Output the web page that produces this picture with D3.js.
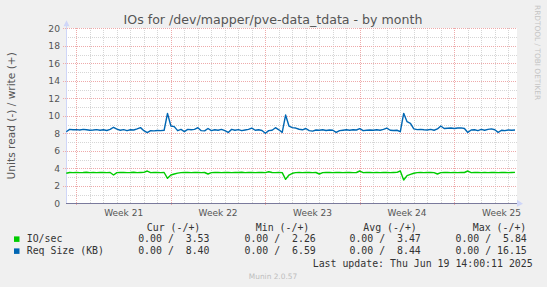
<!DOCTYPE html>
<html>
<head>
<meta charset="utf-8">
<script src="https://cdn.jsdelivr.net/npm/d3@7"></script>
<style>
  body { margin: 0; background: #f0f0f0; }
  svg { display: block; }
  text { white-space: pre; }
</style>
</head>
<body>
<svg id="chart"></svg>
<script>
// munin "by month" graph (6 hour samples)
const firstSample = new Date(2025, 4, 17, 6, 0);
const sampleHours = 6;

const ioWrite = [
  3.43, 3.52, 3.50, 3.54, 3.50, 3.52, 3.55, 3.50, 3.53, 3.50, 3.54, 3.52, 3.50, 3.52,
  3.23,
  3.50, 3.52, 3.54, 3.50, 3.52, 3.55, 3.50, 3.52, 3.54, 3.69, 3.50, 3.52, 3.53, 3.50, 3.52,
  2.86, 3.23, 3.35, 3.45,
  3.50, 3.52, 3.54, 3.50, 3.53, 3.52, 3.50, 3.52,
  3.35,
  3.50, 3.53, 3.52, 3.50, 3.54, 3.52, 3.50, 3.53, 3.52, 3.55, 3.50, 3.52, 3.54, 3.50, 3.52, 3.53, 3.50, 3.60, 3.52, 3.50, 3.53, 3.50,
  2.74, 3.23, 3.43,
  3.50, 3.52, 3.50, 3.53, 3.52, 3.50, 3.52,
  3.35,
  3.50, 3.52, 3.53, 3.50, 3.52, 3.54, 3.50, 3.52, 3.53, 3.50, 3.52,
  3.69,
  3.50, 3.52, 3.53, 3.50, 3.52, 3.50, 3.53, 3.52, 3.50, 3.52, 3.53,
  3.69, 2.66, 3.16, 3.30, 3.43,
  3.50, 3.52, 3.50, 3.53, 3.52, 3.50,
  3.35,
  3.50, 3.52, 3.53, 3.50, 3.52, 3.50, 3.53, 3.52,
  3.69,
  3.50, 3.52, 3.53, 3.50, 3.52, 3.50, 3.53, 3.52, 3.50, 3.52, 3.53, 3.50, 3.52, 3.53
];

const reqWrite = [
  8.18, 8.45, 8.40, 8.42, 8.38, 8.45, 8.40, 8.35, 8.38, 8.42, 8.35, 8.40, 8.32, 8.45,
  8.69, 8.48, 8.35, 8.42, 8.30, 8.40, 8.38, 8.50, 8.65, 8.30, 8.08, 8.30, 8.28, 8.32,
  8.30, 8.35, 10.28, 8.83, 8.76, 8.30, 8.45, 8.20, 8.45, 8.40, 8.45, 8.64, 8.30, 8.28,
  8.55, 8.30, 8.40, 8.35, 8.45, 8.30, 8.10, 8.45, 8.35, 8.42, 8.30, 8.38, 8.45, 8.60,
  8.35, 8.40, 8.32, 8.00, 8.30, 8.35, 8.64, 8.40, 8.10, 10.09, 8.83, 8.65, 8.60, 8.46,
  8.40, 8.55, 8.30, 8.25, 8.38, 8.35, 8.40, 8.32, 8.38, 8.35, 8.10, 8.30, 8.35, 8.40,
  8.35, 8.40, 8.38, 8.53, 8.30, 8.35, 8.38, 8.35, 8.40, 8.35, 8.45, 8.60, 8.35, 8.32,
  8.35, 8.18, 10.28, 9.33, 9.14, 8.50, 8.42, 8.45, 8.40, 8.38, 8.45, 8.35, 8.50, 8.83,
  8.55, 8.58, 8.60, 8.55, 8.60, 8.62, 8.55, 8.10, 8.38, 8.40, 8.30, 8.45, 8.35, 8.45,
  8.50, 8.40, 8.10, 8.35, 8.30, 8.38, 8.35, 8.37
];

const seriesNames = ["IO/sec", "Req Size (KB)"];
const statHeaders = ["Cur (-/+)", "Min (-/+)", "Avg (-/+)", "Max (-/+)"];
const ioStats = ["0.00 /  3.53", "0.00 /  2.26", "0.00 /  3.47", "0.00 /  5.84"];
const reqStats = ["0.00 /  8.40", "0.00 /  6.59", "0.00 /  8.44", "0.00 / 16.15"];
const yTicks = [0, 2, 4, 6, 8, 10, 12, 14, 16, 18, 20];

const titleText = "IOs for /dev/mapper/pve-data_tdata - by month";
const yLabel = "Units read (-) / write (+)";
const lastUpdate = "Last update: Thu Jun 19 14:00:11 2025";

function main() {
    const toPoints = values => values.map((v, i) => ({
        t: d3.timeHour.offset(firstSample, i * sampleHours),
        v: v
    }));
    drawChart([toPoints(ioWrite), toPoints(reqWrite)]);
}

function drawChart(series) {
    const canvasWidth = 547;
    const canvasHeight = 287;
    const colors = ["#00cc00", "#0066b3"];

    const svg = d3.select("#chart")
        .attr("width", canvasWidth)
        .attr("height", canvasHeight)
        .style("font-family", "'DejaVu Sans', sans-serif");

    svg.append("rect")
        .attr("width", canvasWidth).attr("height", canvasHeight)
        .attr("fill", "#f0f0f0");

    // plot box
    const left = 66, right = 517, top = 28.3, bottom = 203.3;

    const x = d3.scaleTime()
        .domain([new Date(2025, 4, 17, 5, 30), new Date(2025, 5, 19, 15, 30)])
        .range([left, right]);
    const y = d3.scaleLinear()
        .domain([0, 20])
        .range([bottom, top]);
    const px = v => Math.round(v) + 0.5;

    svg.append("rect")
        .attr("x", left).attr("y", 28)
        .attr("width", right - left).attr("height", 176)
        .attr("fill", "#ffffff");

    // minor grid (each day / each unit)
    const grid = svg.append("g").attr("shape-rendering", "crispEdges");
    const days = d3.timeDay.range(x.domain()[0], x.domain()[1]);
    const sundays = d3.timeSunday.range(x.domain()[0], x.domain()[1]);
    grid.selectAll(".vminor")
        .data(days.filter(d => d.getDay() !== 0))
        .join("line")
        .attr("x1", d => px(x(d))).attr("x2", d => px(x(d)))
        .attr("y1", 28).attr("y2", 203)
        .attr("stroke", "#d6d6d6").attr("stroke-dasharray", "1,1");
    grid.selectAll(".hminor")
        .data(d3.range(1, 20, 2))
        .join("line")
        .attr("x1", left).attr("x2", right)
        .attr("y1", d => px(y(d))).attr("y2", d => px(y(d)))
        .attr("stroke", "#d6d6d6").attr("stroke-dasharray", "1,1");

    // major grid (weeks / labelled ticks)
    grid.selectAll(".vmajor")
        .data(sundays)
        .join("line")
        .attr("x1", d => px(x(d))).attr("x2", d => px(x(d)))
        .attr("y1", 28).attr("y2", 206)
        .attr("stroke", "#eeaaaa").attr("stroke-dasharray", "1,1");
    grid.selectAll(".hmajor")
        .data(yTicks.filter(d => d > 0))
        .join("line")
        .attr("x1", left - 3).attr("x2", right)
        .attr("y1", d => px(y(d))).attr("y2", d => px(y(d)))
        .attr("stroke", "#eeaaaa").attr("stroke-dasharray", "1,1");

    // y tick labels
    svg.append("g")
        .selectAll("text")
        .data(yTicks)
        .join("text")
        .attr("x", 60)
        .attr("y", d => y(d) + 3.3)
        .attr("text-anchor", "end")
        .attr("font-size", 9.2)
        .attr("fill", "#555")
        .text(d => d);

    // week labels, centred in the week
    svg.append("g")
        .selectAll("text")
        .data(sundays)
        .join("text")
        .attr("x", d => x(d3.timeHour.offset(d, 84)))
        .attr("y", 215.5)
        .attr("text-anchor", "middle")
        .attr("font-size", 9)
        .attr("fill", "#555")
        .text(d => "Week " + d3.timeFormat("%V")(d3.timeHour.offset(d, 84)));

    // axes with arrows
    svg.append("line")
        .attr("x1", left + 0.5).attr("x2", left + 0.5)
        .attr("y1", bottom).attr("y2", top - 4)
        .attr("stroke", "#cfd6f8");
    svg.append("path")
        .attr("d", `M${left - 2.5},${top - 2} L${left + 0.5},${top - 8} L${left + 3.5},${top - 2} Z`)
        .attr("fill", "#cfd6f8");
    svg.append("path")
        .attr("d", `M${right},${bottom - 3.5} L${right + 6},${bottom + 0.5} L${right},${bottom + 3.5} Z`)
        .attr("fill", "#cfd6f8");
    svg.append("line")
        .attr("x1", left).attr("x2", right)
        .attr("y1", px(y(0))).attr("y2", px(y(0)))
        .attr("stroke", "#7a7a9c")
        .attr("shape-rendering", "crispEdges");

    // series lines
    const line = d3.line()
        .x(d => x(d.t))
        .y(d => y(d.v));
    series.forEach((s, i) => {
        svg.append("path")
            .datum(s)
            .attr("d", line)
            .attr("fill", "none")
            .attr("stroke", colors[i])
            .attr("stroke-width", 1.4)
            .attr("stroke-linejoin", "round");
    });

    // title
    svg.append("text")
        .attr("x", 273).attr("y", 23.5)
        .attr("text-anchor", "middle")
        .attr("font-size", 12.6)
        .attr("fill", "#555")
        .text(titleText);

    // y axis title
    svg.append("text")
        .attr("transform", `translate(14.5, ${(top + bottom) / 2}) rotate(-90)`)
        .attr("text-anchor", "middle")
        .attr("font-size", 10.6)
        .attr("fill", "#555")
        .text(yLabel);

    // rrdtool watermark
    svg.append("text")
        .attr("transform", "translate(535, 5) rotate(90)")
        .attr("font-size", 7.4)
        .attr("fill", "#c4c4c4")
        .text("RRDTOOL / TOBI OETIKER");

    // legend
    const legend = svg.append("g")
        .style("font-family", "'DejaVu Sans Mono', monospace")
        .attr("font-size", 9.9)
        .attr("fill", "#333");
    const colEnds = [209.5, 315.8, 420.8, 526.8];
    const headEnds = [200.3, 309.3, 416.8, 526.3];

    legend.selectAll(".head")
        .data(statHeaders)
        .join("text")
        .attr("x", (d, i) => headEnds[i]).attr("y", 230.8)
        .attr("text-anchor", "end")
        .text(d => d);

    const rows = [ioStats, reqStats];
    rows.forEach((stats, r) => {
        const rowY = 242.4 + r * 12;
        legend.append("rect")
            .attr("x", 14).attr("y", rowY - 6)
            .attr("width", 5.5).attr("height", 5.5)
            .attr("fill", colors[r]);
        legend.append("text")
            .attr("x", 26.7).attr("y", rowY)
            .text(seriesNames[r]);
        legend.selectAll(".row" + r)
            .data(stats)
            .join("text")
            .attr("x", (d, i) => colEnds[i]).attr("y", rowY)
            .attr("text-anchor", "end")
            .text(d => d);
    });

    legend.append("text")
        .attr("x", 532.7).attr("y", 266.8)
        .attr("text-anchor", "end")
        .text(lastUpdate);

    svg.append("text")
        .attr("x", 273).attr("y", 279)
        .attr("text-anchor", "middle")
        .attr("font-size", 7.4)
        .attr("fill", "#bdbdbd")
        .text("Munin 2.0.57");
}

main();
</script>
</body>
</html>
